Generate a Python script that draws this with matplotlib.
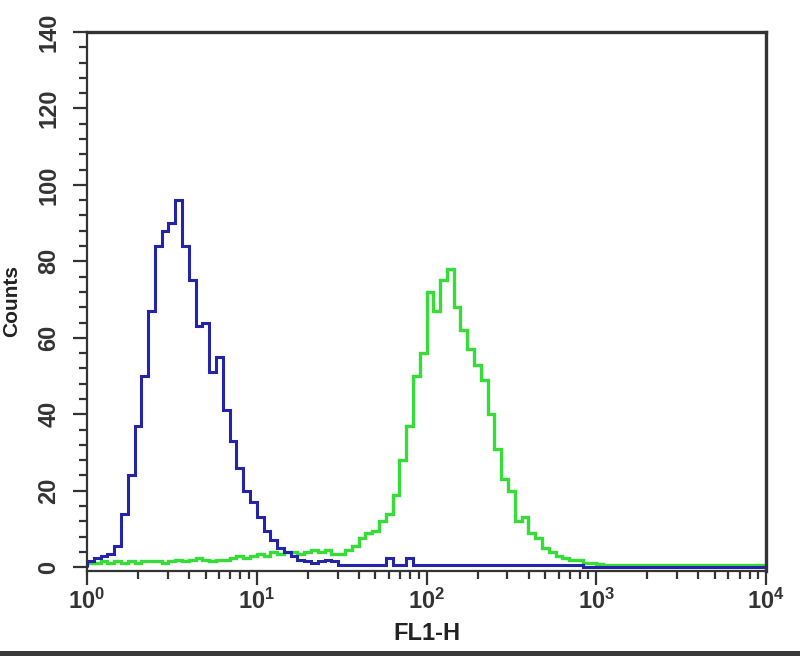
import numpy as np
import matplotlib
matplotlib.use("Agg")
import matplotlib.pyplot as plt
from matplotlib.ticker import MultipleLocator, FixedLocator, NullFormatter
import matplotlib.patches as patches

plt.rcParams['font.family'] = ['Liberation Sans', 'DejaVu Sans']
plt.rcParams['font.weight'] = 'bold'
plt.rcParams['axes.labelweight'] = 'bold'
plt.rcParams['mathtext.default'] = 'regular'

# channel bins: 25 per decade over 10^0 .. 10^4
bins_per_decade = 25
n_decades = 4

# histogram counts, one per channel bin
blue_counts = [1.5, 2.5, 3, 3.5, 5.5, 14, 24, 37, 50, 67,
               84, 88, 90, 96, 84, 75, 63, 64, 51, 55,
               41, 33, 26, 20, 17, 13, 9.5, 7, 5, 4,
               3, 2, 1.5, 1, 1.5, 2, 1.5, 0.5, 0.5, 0.5,
               0.5, 0.5, 0.5, 0.5, 2.5, 0.5, 0.5, 2.5, 0.5, 0.5,
               0.5, 0.5, 0.5, 0.5, 0.5, 0.5, 0.5, 0.5, 0.5, 0.5,
               0.5, 0.5, 0.5, 0.5, 0.5, 0.5, 0.5, 0.5, 0.5, 0.5,
               0.5, 0.5, 0.5, 0, 0, 0, 0, 0, 0, 0,
               0, 0, 0, 0, 0, 0, 0, 0, 0, 0,
               0, 0, 0, 0, 0, 0, 0, 0, 0, 0]

green_counts = [1, 1, 1.5, 1, 1.5, 1, 1.5, 1, 1.5, 1.5,
                1.5, 1, 1.5, 2, 1.5, 2, 2.5, 2, 1.5, 2,
                2, 2.5, 3, 2.5, 3, 3.5, 3, 4, 3.5, 4,
                4, 3.5, 4, 4.5, 4, 4.5, 3.5, 3.5, 4.5, 5.5,
                7.5, 9, 9.5, 12, 14, 19, 28, 37, 50, 56,
                72, 67, 75, 78, 68, 62, 57, 53, 49, 40,
                31, 23, 20, 12, 13, 9, 7.5, 5, 4, 3,
                2.5, 2, 1.8, 1.2, 1, 0.8, 0.5, 0.5, 0.5, 0.5,
                0.5, 0.5, 0.5, 0.5, 0.5, 0.5, 0.5, 0.5, 0.5, 0.5,
                0.5, 0.5, 0.5, 0.5, 0.5, 0.5, 0.5, 0.5, 0.5, 0.5]

x_ticks = [1, 10, 100, 1000, 10000]
x_ticklabels = ['$10^0$', '$10^1$', '$10^2$', '$10^3$', '$10^4$']
y_ticks = [0, 20, 40, 60, 80, 100, 120, 140]

edges = 10 ** (np.arange(bins_per_decade * n_decades + 1) / bins_per_decade)

fig = plt.figure(figsize=(8, 6.56), dpi=100)
ax = fig.add_axes([0.10875, 0.1296, 0.84875, 0.8216])

ax.stairs(green_counts, edges, color='#38dc38', linewidth=2.4, zorder=2)
ax.stairs(blue_counts, edges, color='#2424a8', linewidth=2.2, zorder=3)

ax.set_xscale('log')
ax.set_xlim(1, 10000)
ax.set_ylim(-1, 140)

ax.set_xticks(x_ticks)
ax.set_xticklabels(x_ticklabels)
minor_x = [m * d for d in [1, 10, 100, 1000] for m in range(2, 10)]
ax.xaxis.set_minor_locator(FixedLocator(minor_x))
ax.xaxis.set_minor_formatter(NullFormatter())

ax.set_yticks(y_ticks)
ax.set_yticklabels([str(v) for v in y_ticks], rotation=90, va='center')
ax.yaxis.set_minor_locator(MultipleLocator(4))

ax.tick_params(axis='both', which='major', direction='out', length=10,
               width=1.6, color='#333333', labelsize=17, labelcolor='#333333')
ax.tick_params(axis='both', which='minor', direction='out', length=6,
               width=1.6, color='#333333')
ax.tick_params(axis='x', which='major', pad=3)
ax.tick_params(axis='y', which='major', pad=9)

for side in ['top', 'right']:
    ax.spines[side].set_linewidth(2.4)
    ax.spines[side].set_color('#333333')
for side in ['left', 'bottom']:
    ax.spines[side].set_linewidth(1.6)
    ax.spines[side].set_color('#333333')

ax.set_xlabel('FL1-H', fontsize=17, color='#222222')
ax.xaxis.set_label_coords(0.5, -0.095)
ax.set_ylabel('Counts', fontsize=15, color='#222222')
ax.yaxis.set_label_coords(-0.097, 0.5)

# dark frame strip along the bottom of the picture
fig.patches.append(patches.Rectangle((0, 0), 1, 5 / 656, transform=fig.transFigure,
                                     facecolor='#3a3a3a', edgecolor='none'))

fig.savefig('out.png', dpi=100, facecolor='white')
